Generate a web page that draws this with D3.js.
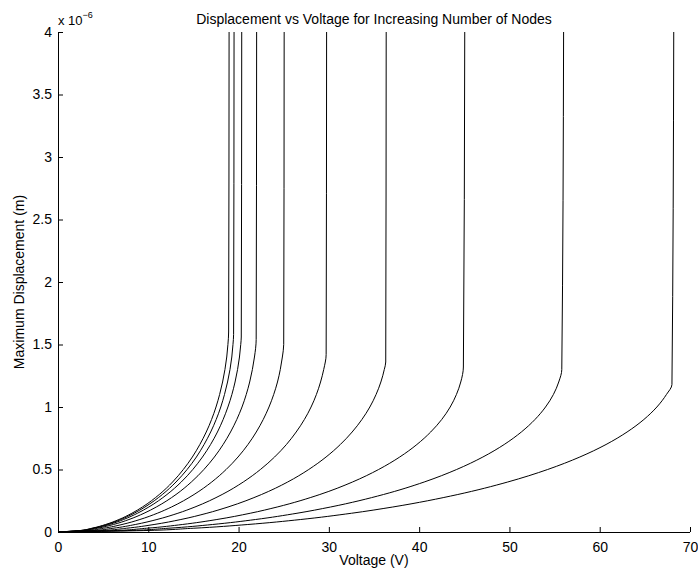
<!DOCTYPE html>
<html>
<head>
<meta charset="utf-8">
<script src="https://cdn.jsdelivr.net/npm/d3@7/dist/d3.min.js"></script>
<style>
  html, body { margin: 0; padding: 0; background: #fff; }
  svg text { font-family: "Liberation Sans", Arial, Helvetica, sans-serif; fill: #000; }
</style>
</head>
<body>
<svg id="chart" width="698" height="569"></svg>
<script>
// Maximum displacement (micrometres) against applied voltage (V),
// one curve per mesh size; each ends in its pull-in jump.
// Points are [voltage, displacement].
const curve1  = [[0,0],[2.17,0.01],[3.75,0.03],[5.27,0.06],[6.75,0.1],[8.18,0.15],[9.35,0.2],[11.22,0.3],[12.69,0.4],[13.88,0.5],[14.88,0.6],[15.71,0.7],[16.42,0.8],[17.01,0.9],[17.5,1.0],[17.9,1.1],[18.23,1.2],[18.49,1.3],[18.69,1.4],[18.82,1.5],[18.9,1.6],[18.95,4.0]];
const curve2  = [[0,0],[2.24,0.01],[3.86,0.03],[5.43,0.06],[6.95,0.1],[8.43,0.15],[9.63,0.2],[11.56,0.3],[13.07,0.4],[14.3,0.5],[15.33,0.6],[16.18,0.7],[16.91,0.8],[17.52,0.9],[18.03,1.0],[18.44,1.1],[18.78,1.2],[19.05,1.3],[19.25,1.4],[19.38,1.5],[19.45,1.58],[19.5,4.0]];
const curve3  = [[0,0],[2.34,0.01],[4.03,0.03],[5.67,0.06],[7.26,0.1],[8.8,0.15],[10.06,0.2],[12.07,0.3],[13.65,0.4],[14.93,0.5],[16.0,0.6],[16.9,0.7],[17.66,0.8],[18.29,0.9],[18.82,1.0],[19.26,1.1],[19.61,1.2],[19.89,1.3],[20.1,1.4],[20.24,1.5],[20.3,1.56],[20.35,4.0]];
const curve4  = [[0,0],[2.53,0.01],[4.36,0.03],[6.14,0.06],[7.86,0.1],[9.53,0.15],[10.89,0.2],[13.07,0.3],[14.77,0.4],[16.16,0.5],[17.32,0.6],[18.29,0.7],[19.11,0.8],[19.8,0.9],[20.38,1.0],[20.85,1.1],[21.23,1.2],[21.53,1.3],[21.76,1.4],[21.95,1.54],[22.0,4.0]];
const curve5  = [[0,0],[2.92,0.01],[5.04,0.03],[7.09,0.06],[9.07,0.1],[11.0,0.15],[12.57,0.2],[15.07,0.3],[17.03,0.4],[18.62,0.5],[19.94,0.6],[21.04,0.7],[21.96,0.8],[22.73,0.9],[23.37,1.0],[23.89,1.1],[24.31,1.2],[24.62,1.3],[24.85,1.4],[25.0,1.5],[25.05,4.0]];
const curve6  = [[0,0],[3.53,0.01],[6.09,0.03],[8.56,0.06],[10.96,0.1],[13.28,0.15],[15.17,0.2],[18.18,0.3],[20.52,0.4],[22.42,0.5],[23.99,0.6],[25.3,0.7],[26.38,0.8],[27.29,0.9],[28.03,1.0],[28.62,1.1],[29.08,1.2],[29.43,1.3],[29.7,1.42],[29.75,4.0]];
const curve7  = [[0,0],[4.39,0.01],[7.57,0.03],[10.64,0.06],[13.61,0.1],[16.49,0.15],[18.83,0.2],[22.54,0.3],[25.44,0.4],[27.77,0.5],[29.69,0.6],[31.27,0.7],[32.58,0.8],[33.66,0.9],[34.54,1.0],[35.23,1.1],[35.76,1.2],[36.14,1.3],[36.3,1.36],[36.35,4.0]];
const curve8  = [[0,0],[5.69,0.01],[9.8,0.03],[13.77,0.06],[17.6,0.1],[21.29,0.15],[24.28,0.2],[29.0,0.3],[32.62,0.4],[35.51,0.5],[37.85,0.6],[39.75,0.7],[41.28,0.8],[42.5,0.9],[43.44,1.0],[44.13,1.1],[44.61,1.2],[44.9,1.32],[45.05,4.0]];
const curve9  = [[0,0],[7.07,0.01],[12.19,0.03],[17.11,0.06],[21.88,0.1],[26.47,0.15],[30.19,0.2],[36.05,0.3],[40.56,0.4],[44.15,0.5],[47.06,0.6],[49.42,0.7],[51.32,0.8],[52.83,0.9],[54.0,1.0],[54.87,1.1],[55.46,1.2],[55.8,1.3],[56.0,4.0]];
const curve10 = [[0,0],[8.69,0.01],[14.97,0.03],[21.02,0.06],[26.88,0.1],[32.51,0.15],[37.08,0.2],[44.28,0.3],[49.81,0.4],[54.23,0.5],[57.8,0.6],[60.7,0.7],[63.03,0.8],[64.89,0.9],[66.33,1.0],[67.39,1.1],[68.0,1.18],[68.2,4.0]];

const seriesList = [curve1, curve2, curve3, curve4, curve5, curve6, curve7, curve8, curve9, curve10];

const xTicks = [0, 10, 20, 30, 40, 50, 60, 70];
const yTicks = [0, 0.5, 1, 1.5, 2, 2.5, 3, 3.5, 4];   // units of 1e-6 m

const titleText = "Displacement vs Voltage for Increasing Number of Nodes";
const xLabel = "Voltage (V)";
const yLabel = "Maximum Displacement (m)";
const fontSize = 14;

const svg = d3.select("#chart");
const W = 698, H = 569;
const margin = { left: 58, right: 8, top: 32, bottom: 37 };

const x = d3.scaleLinear().domain([0, 70]).range([margin.left, W - margin.right]);
const y = d3.scaleLinear().domain([0, 4]).range([H - margin.bottom, margin.top]);

// curves
const line = d3.line()
  .x(d => x(d[0]))
  .y(d => y(d[1]))
  .curve(d3.curveMonotoneY);

svg.append("g")
  .selectAll("path")
  .data(seriesList)
  .join("path")
  .attr("d", line)
  .attr("fill", "none")
  .attr("stroke", "#000")
  .attr("stroke-width", 1);

// axes, ticks pointing into the plot
const xAxis = d3.axisBottom(x).tickValues(xTicks).tickSize(-5).tickPadding(10).tickFormat(d3.format("d"));
const yAxis = d3.axisLeft(y).tickValues(yTicks).tickSize(-5).tickPadding(10).tickFormat(d3.format(""));

const gx = svg.append("g").attr("transform", `translate(0,${y(0)})`).call(xAxis);
const gy = svg.append("g").attr("transform", `translate(${x(0)},0)`).call(yAxis);

[gx, gy].forEach(g => {
  g.select(".domain").attr("stroke", "#000").attr("stroke-width", 1);
  g.selectAll(".tick line").attr("stroke", "#000").attr("stroke-width", 1);
  g.selectAll(".tick text").attr("font-size", fontSize).attr("fill", "#000")
    .style("font-family", '"Liberation Sans", Arial, sans-serif');
});
gx.select(".domain").attr("d", `M${x(0)},0.5H${x(70)}`);
gy.select(".domain").attr("d", `M0.5,${y(0)}V${y(4)}`);
gy.selectAll(".tick text").attr("dx", 4);

// exponent marker above the y axis
const ex = svg.append("text").attr("x", x(0)).attr("y", 25).attr("font-size", fontSize - 1);
ex.append("tspan").text("x 10");
ex.append("tspan").attr("dy", -7).attr("font-size", 9).text("\u22126");

// title
svg.append("text")
  .attr("x", (x(0) + x(70)) / 2).attr("y", 24)
  .attr("text-anchor", "middle").attr("font-size", fontSize)
  .text(titleText);

// axis labels
svg.append("text")
  .attr("x", (x(0) + x(70)) / 2).attr("y", 565)
  .attr("text-anchor", "middle").attr("font-size", fontSize)
  .text(xLabel);

svg.append("text")
  .attr("transform", `translate(24,${(y(0) + y(4)) / 2}) rotate(-90)`)
  .attr("text-anchor", "middle").attr("font-size", fontSize)
  .text(yLabel);
</script>
</body>
</html>
